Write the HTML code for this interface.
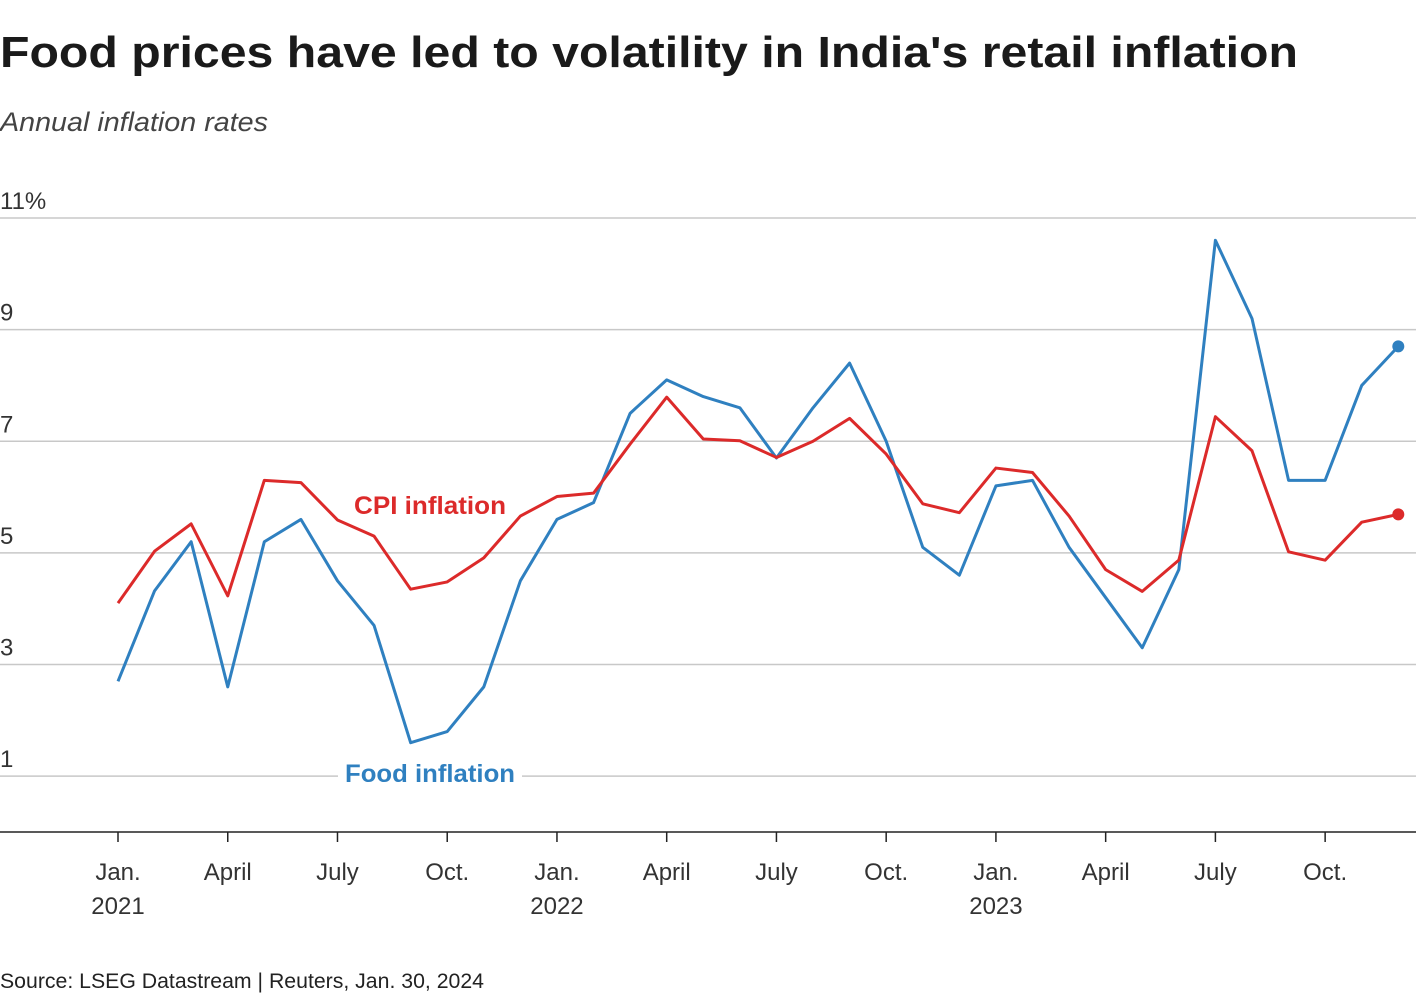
<!DOCTYPE html>
<html><head><meta charset="utf-8"><style>
html,body{margin:0;padding:0;background:#fff;}
svg{display:block;font-family:"Liberation Sans",sans-serif;}
</style></head><body>
<svg id="chart" width="1420" height="1000" viewBox="0 0 1420 1000">
<text x="0" y="67" font-size="44" font-weight="bold" fill="#1a1a1a" textLength="1298" lengthAdjust="spacingAndGlyphs">Food prices have led to volatility in India's retail inflation</text>
<text x="0" y="131" font-size="27" font-style="italic" fill="#444" font-weight="300" textLength="268" lengthAdjust="spacingAndGlyphs">Annual inflation rates</text>
<g id="grid"></g>
<g id="xaxis"></g>
<g id="series"></g>
<text x="0" y="988" font-size="21" fill="#222" textLength="484" lengthAdjust="spacingAndGlyphs">Source: LSEG Datastream | Reuters, Jan. 30, 2024</text>
</svg>
<script>
const yTicks = [1, 3, 5, 7, 9, 11];
const yTickLabels = ["1", "3", "5", "7", "9", "11%"];
const xTickMonths = [0, 3, 6, 9, 12, 15, 18, 21, 24, 27, 30, 33];
const xTickLabels = ["Jan.", "April", "July", "Oct.", "Jan.", "April", "July", "Oct.", "Jan.", "April", "July", "Oct."];
const xYearLabels = ["2021", "", "", "", "2022", "", "", "", "2023", "", "", ""];
const cpi = [4.1,5.03,5.52,4.23,6.3,6.26,5.59,5.3,4.35,4.48,4.91,5.66,6.01,6.07,6.95,7.79,7.04,7.01,6.71,7.0,7.41,6.77,5.88,5.72,6.52,6.44,5.66,4.7,4.31,4.87,7.44,6.83,5.02,4.87,5.55,5.69];
const food = [2.7,4.32,5.2,2.6,5.2,5.6,4.5,3.7,1.6,1.8,2.6,4.5,5.6,5.9,7.5,8.1,7.8,7.6,6.7,7.6,8.4,7.0,5.1,4.6,6.2,6.3,5.1,4.2,3.3,4.7,10.6,9.2,6.3,6.3,8.0,8.7];

const NS = "http://www.w3.org/2000/svg";
const x = m => 118 + m * 36.58;
const y = v => 832 - v * 55.82;
function mk(tag, attrs, parent) {
  const e = document.createElementNS(NS, tag);
  for (const k in attrs) e.setAttribute(k, attrs[k]);
  parent.appendChild(e);
  return e;
}
const grid = document.getElementById("grid");
yTicks.forEach((t, i) => {
  const l = mk("line", {x1: 0, x2: 1416, y1: y(t), y2: y(t), stroke: "#c8c8c8", "stroke-width": 1.5}, grid);
  
  
  const tx = mk("text", {x: 0, y: y(t) - 9, "font-size": 24, fill: "#333"}, grid);
  tx.textContent = yTickLabels[i];
  
  
});
const xa = document.getElementById("xaxis");
const ax = mk("line", {x1: 0, x2: 1416, y1: 832, y2: 832, stroke: "#222", "stroke-width": 1.5}, xa);


xTickMonths.forEach((m, i) => {
  const tk = mk("line", {x1: x(m), x2: x(m), y1: 832, y2: 842, stroke: "#222", "stroke-width": 1.5}, xa);
  
  
  const t = mk("text", {x: x(m), y: 880, "font-size": 24, fill: "#333", "text-anchor": "middle"}, xa);
  t.textContent = xTickLabels[i];
  
  
  if (xYearLabels[i]) {
    const yt = mk("text", {x: x(m), y: 914, "font-size": 24, fill: "#333", "text-anchor": "middle"}, xa);
    yt.textContent = xYearLabels[i];
    
    
  }
});
const sg = document.getElementById("series");
function series(data, color, name) {
  const p = mk("polyline", {points: data.map((v, i) => x(i) + "," + y(v)).join(" "), fill: "none", stroke: color, "stroke-width": 3, "stroke-linejoin": "round"}, sg);
  
  
  const c = mk("circle", {cx: x(data.length - 1), cy: y(data[data.length - 1]), r: 6, fill: color}, sg);
  
  
}
series(food, "#2f80c0", "food-inflation");
series(cpi, "#dc2a2a", "cpi-inflation");
const bg = mk("rect", {x: 338, y: 758, width: 184, height: 34, fill: "#fff"}, sg);


const fl = mk("text", {x: 430, y: 782, "font-size": 25, "font-weight": "bold", fill: "#2f80c0", "text-anchor": "middle", textLength: 170, lengthAdjust: "spacingAndGlyphs"}, sg);
fl.textContent = "Food inflation";


const cl = mk("text", {x: 430, y: 514, "font-size": 25, "font-weight": "bold", fill: "#dc2a2a", "text-anchor": "middle", textLength: 152, lengthAdjust: "spacingAndGlyphs"}, sg);
cl.textContent = "CPI inflation";


</script>
</body></html>
